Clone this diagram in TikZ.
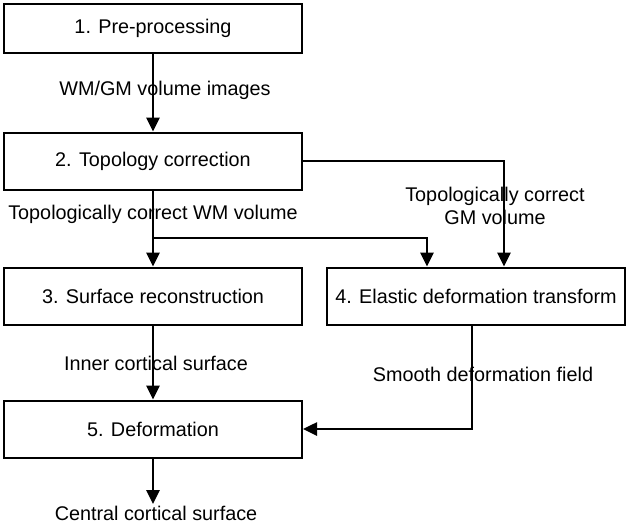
\documentclass[tikz,border=0pt]{standalone}
\usepackage{fontspec}
\setmainfont{Liberation Sans}
\usetikzlibrary{positioning, arrows.meta}

\begin{document}
\begin{tikzpicture}[node distance=133pt, x=1pt, y=1pt,
  box/.style={draw, line width=2pt, minimum width=298pt, minimum height=57pt, inner sep=0pt, font=\fontsize{19.8}{23}\selectfont},
  lbl/.style={inner sep=1pt, align=center, font=\fontsize{19.8}{23}\selectfont},
  flow/.style={line width=2.6pt, -{Triangle[length=14pt,width=13pt]}}]
\useasboundingbox (0,0) rectangle (628,-523);
% boxes %
\node[box, minimum height=49pt] (b1) at (153,-28) {1. Pre-processing};
\node[box, below of = b1] (b2) {2. Topology correction};
\node[box, below of = b2, node distance=135pt] (b3) {3. Surface reconstruction};
\node[box, right of = b3, node distance=323pt] (b4) {4. Elastic deformation transform};
\node[box, below of = b3] (b5) {5. Deformation};
\coordinate[below of = b2, node distance=77pt] (fork);
\coordinate[below of = b5, node distance=75pt] (out);
% labels %
\node[lbl, below of = b1, node distance=62pt, xshift=12pt] (l1) {WM/GM volume images};
\node[lbl, below of = b2, node distance=53pt] (l2) {Topologically correct WM volume};
\node[lbl] (l3) at (495,-206) {Topologically correct\\GM volume};
\node[lbl, below of = b3, node distance=67pt, xshift=3pt] (l4) {Inner cortical surface};
\node[lbl, below of = b4, node distance=78pt, xshift=7pt] (l5) {Smooth deformation field};
\node[lbl, below of = b5, node distance=84pt, xshift=3pt] (l6) {Central cortical surface};
% edges %
\draw[flow] (b1) -- (b2);
\draw[flow] (b2) -- (b3);
\draw[flow] (b3) -- (b5);
\draw[flow] (b5) -- (out);
\draw[flow] (b2.east) -| ([xshift=28pt]b4.north);
\draw[flow] (fork) -| ([xshift=-49pt]b4.north);
\draw[flow] ([xshift=-4pt]b4.south) |- (b5.east);
\end{tikzpicture}
\end{document}
